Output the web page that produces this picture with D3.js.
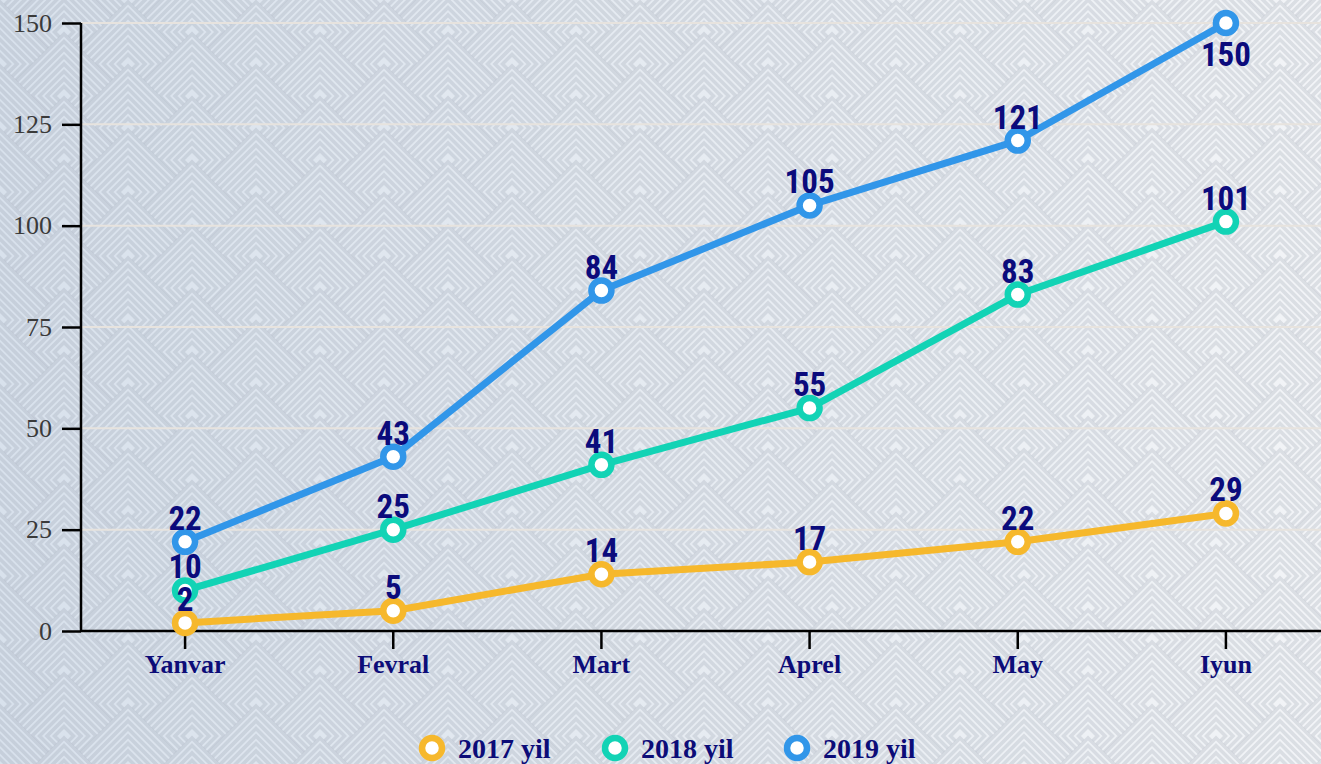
<!DOCTYPE html>
<html>
<head>
<meta charset="utf-8">
<script src="https://cdn.jsdelivr.net/npm/d3@7"></script>
<style>
  html, body { margin: 0; padding: 0; background: #e6ebf2; }
  svg { display: block; }
</style>
</head>
<body>
<svg id="chart" width="1321" height="764"></svg>
<script>
// Monthly totals per year
const months = ["Yanvar", "Fevral", "Mart", "Aprel", "May", "Iyun"];
const values2017 = [2, 5, 14, 17, 22, 29];
const values2018 = [10, 25, 41, 55, 83, 101];
const values2019 = [22, 43, 84, 105, 121, 150];
const yTicks = [0, 25, 50, 75, 100, 125, 150];
const seriesNames = ["2017 yil", "2018 yil", "2019 yil"];
const seriesColors = ["#f6b82c", "#12d3b5", "#3196e9"];

const W = 1321, H = 764;
const svg = d3.select("#chart");
const defs = svg.append("defs");

// Soft horizontal wash behind the chevron pattern
const grad = defs.append("linearGradient")
  .attr("id", "bgGrad").attr("gradientUnits", "userSpaceOnUse")
  .attr("x1", 0).attr("y1", 0).attr("x2", W).attr("y2", 0);
grad.append("stop").attr("offset", "0%").attr("stop-color", "#d8e1ec");
grad.append("stop").attr("offset", "55%").attr("stop-color", "#e7ecf2");
grad.append("stop").attr("offset", "100%").attr("stop-color", "#f2f4f7");

// Background: staggered rows of nested diamonds; each lower row covers the
// bottom of the row above, leaving stacked chevrons
const bg = svg.append("g").attr("class", "background");
bg.append("rect").attr("width", W).attr("height", H).attr("fill", "url(#bgGrad)");
const half = 64, rowStep = 32, colStep = 128, ringStep = 7.5;
let row = 0;
for (let cy = -half; cy <= H + half * 2; cy += rowStep, row++) {
  const offset = (row % 2) * (colStep / 2);
  for (let cx = -colStep + offset; cx <= W + colStep; cx += colStep) {
    const d = bg.append("g");
    d.append("path")
      .attr("d", `M${cx},${cy - half}L${cx + half},${cy}L${cx},${cy + half}L${cx - half},${cy}Z`)
      .attr("fill", "url(#bgGrad)");
    for (let r = half - 2; r > 2; r -= ringStep) {
      d.append("path")
        .attr("d", `M${cx},${cy - r}L${cx + r},${cy}L${cx},${cy + r}L${cx - r},${cy}Z`)
        .attr("fill", "none")
        .attr("stroke", "rgba(120,135,150,0.19)")
        .attr("stroke-width", 3.5);
    }
  }
}

// Scales
const x = d3.scaleBand().domain(months).range([81, 1330]).padding(0);
const y = d3.scaleLinear().domain([0, 150]).range([631, 23]);
const cx = m => x(m) + x.bandwidth() / 2;

// Horizontal gridlines
svg.append("g").selectAll("line")
  .data(yTicks.filter(t => t > 0))
  .join("line")
  .attr("x1", 81).attr("x2", W)
  .attr("y1", d => y(d)).attr("y2", d => y(d))
  .attr("stroke", "#e7e3de").attr("stroke-width", 2);

// Y axis
const yAxis = svg.append("g").attr("transform", "translate(81,0)")
  .call(d3.axisLeft(y).tickValues(yTicks).tickSize(19).tickPadding(10));
yAxis.select(".domain").attr("stroke", "#000").attr("stroke-width", 2.5)
  .attr("d", `M0,${y(150)}V${y(0)}`);
yAxis.selectAll(".tick line").attr("stroke", "#000").attr("stroke-width", 2.5);
yAxis.selectAll(".tick text")
  .attr("font-family", "'Liberation Serif', 'Times New Roman', serif")
  .attr("font-size", 26).attr("fill", "#3a3a3a");

// X axis
const xAxis = svg.append("g").attr("transform", "translate(0,631)")
  .call(d3.axisBottom(x).tickSize(18).tickPadding(6));
xAxis.select(".domain").attr("stroke", "#000").attr("stroke-width", 2.5)
  .attr("d", `M81,0H${W}`);
xAxis.selectAll(".tick line").attr("stroke", "#000").attr("stroke-width", 2.5);
xAxis.selectAll(".tick text")
  .attr("font-family", "'Liberation Serif', 'Times New Roman', serif")
  .attr("font-weight", "bold")
  .attr("font-size", 26).attr("fill", "#0c0c78");

// Series lines, markers, value labels
const series = [values2017, values2018, values2019].map((vals, i) => ({
  name: seriesNames[i], color: seriesColors[i],
  points: months.map((m, j) => ({ m, v: vals[j] }))
}));

const line = d3.line().x(d => cx(d.m)).y(d => y(d.v));

series.forEach(s => {
  svg.append("path").datum(s.points)
    .attr("d", line).attr("fill", "none")
    .attr("stroke", s.color).attr("stroke-width", 7)
    .attr("stroke-linejoin", "round");
});

series.forEach(s => {
  svg.append("g").selectAll("circle").data(s.points).join("circle")
    .attr("cx", d => cx(d.m)).attr("cy", d => y(d.v)).attr("r", 10)
    .attr("fill", "#fff").attr("stroke", s.color).attr("stroke-width", 6.5);
});

series.forEach(s => {
  svg.append("g").selectAll("text").data(s.points).join("text")
    .attr("x", d => cx(d.m))
    .attr("y", d => d.v === 150 ? y(d.v) + 43 : y(d.v) - 12)
    .attr("text-anchor", "middle")
    .attr("font-family", "'Liberation Sans Narrow', 'Roboto Condensed', 'Arial Narrow', sans-serif")
    .attr("font-weight", "bold")
    .attr("font-size", 33)
    .attr("fill", "#0b0b7c")
    .text(d => d.v);
});

// Legend
const legendX = [432, 615, 797];
const legend = svg.append("g");
series.forEach((s, i) => {
  const g = legend.append("g").attr("transform", `translate(${legendX[i]},748)`);
  g.append("circle").attr("r", 10).attr("fill", "#fff")
    .attr("stroke", s.color).attr("stroke-width", 6.5);
  g.append("text").attr("x", 26).attr("y", 10)
    .attr("font-family", "'Liberation Serif', 'Times New Roman', serif")
    .attr("font-weight", "bold").attr("font-size", 28)
    .attr("fill", "#0c0c78").text(s.name);
});
</script>
</body>
</html>
